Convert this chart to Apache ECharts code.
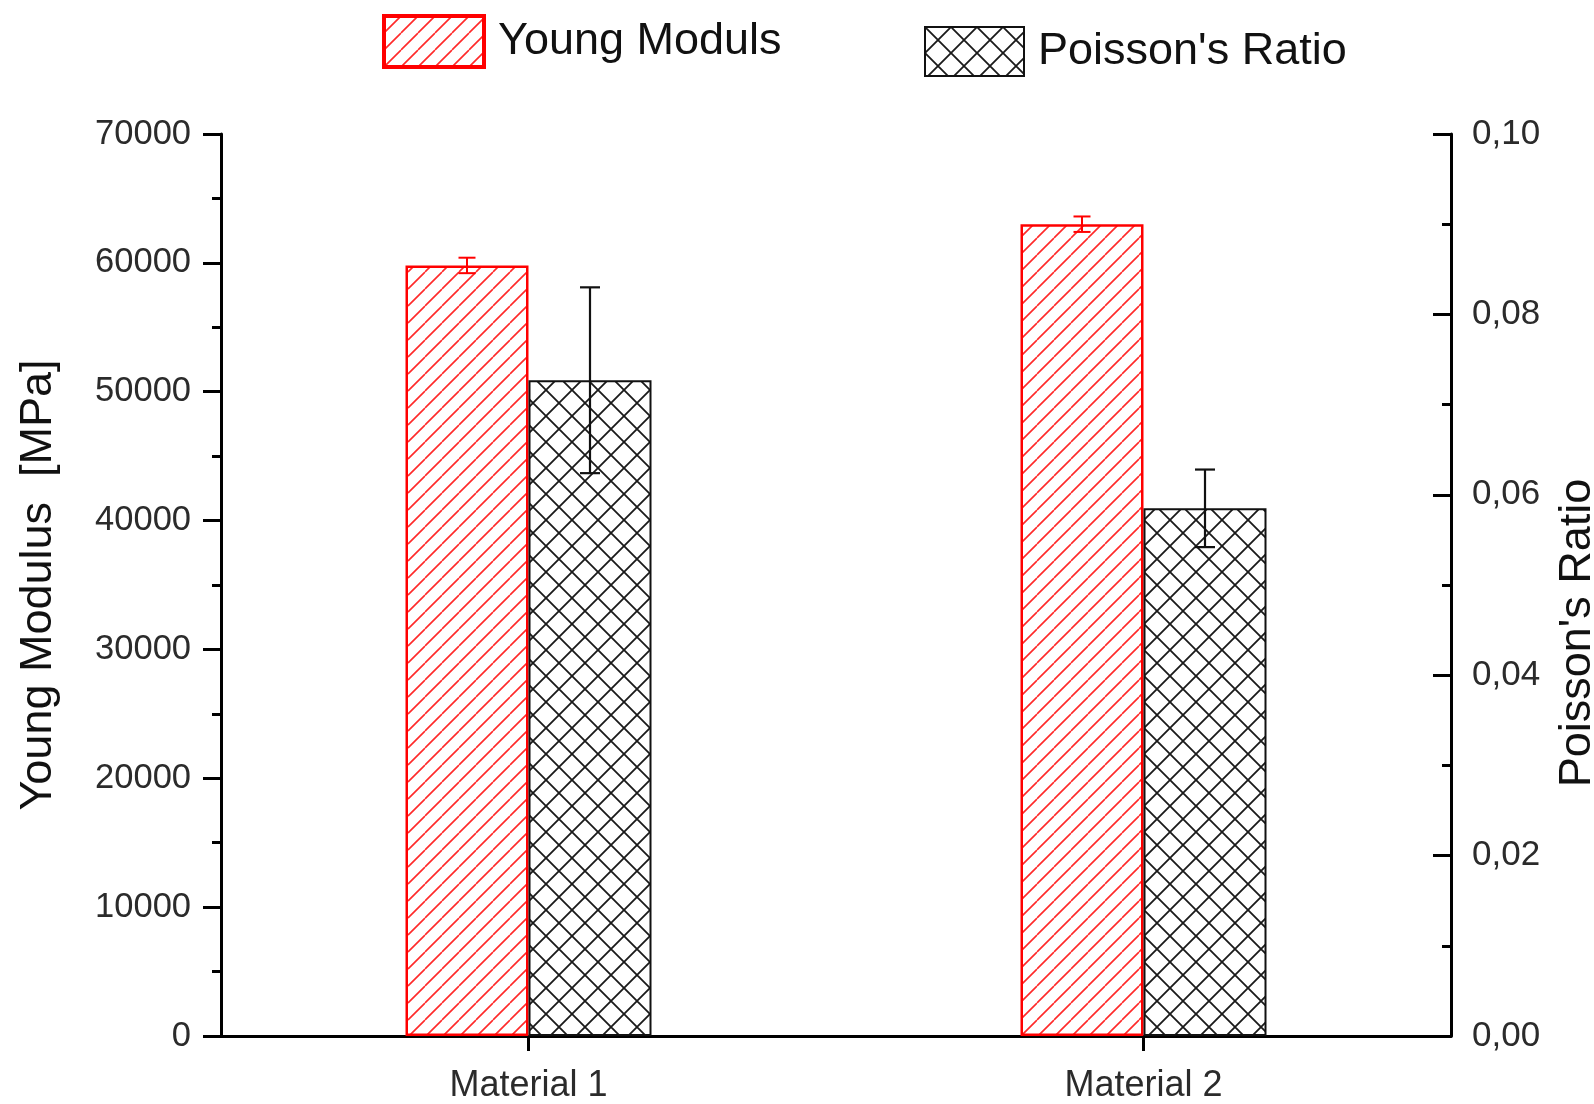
<!DOCTYPE html>
<html>
<head>
<meta charset="utf-8">
<script src="https://cdn.jsdelivr.net/npm/echarts@6/dist/echarts.min.js"></script>
<style>
  html, body { margin: 0; padding: 0; background: #fff; overflow: hidden; }
  #chart { width: 1594px; height: 1104px; }
</style>
</head>
<body>
<div id="chart"></div>
<script>
// Material categories and measured values
const categories = ['Material 1', 'Material 2'];
const youngModulus = [59800, 63000];      // MPa
const youngError = [600, 600];            // MPa
const poissonRatio = [0.0727, 0.0585];
const poissonError = [0.0103, 0.0043];

const FONT = '"Liberation Sans", Arial, sans-serif';
const BAR_W = 123;

// Tiled hatch fills drawn on small canvases
function hatch(size, color, lw, cross) {
  const c = document.createElement('canvas');
  c.width = size; c.height = size;
  const g = c.getContext('2d');
  g.fillStyle = '#fff';
  g.fillRect(0, 0, size, size);
  g.strokeStyle = color;
  g.lineWidth = lw;
  g.beginPath();
  for (let k = -1; k <= 1; k++) {
    g.moveTo(k * size, size);
    g.lineTo(k * size + size, 0);
    if (cross) {
      g.moveTo(k * size, 0);
      g.lineTo(k * size + size, size);
    }
  }
  g.stroke();
  return { image: c, repeat: 'repeat' };
}
const redHatch = hatch(17, '#ff2a2a', 1.6, false);
const blackCross = hatch(26, '#1a1a1a', 1.8, true);

// Error bar rows: [category index, low, high]
const youngErrRows = youngModulus.map((v, i) => [i, v - youngError[i], v + youngError[i]]);
const poissonErrRows = poissonRatio.map((v, i) => [i, v - poissonError[i], v + poissonError[i]]);

function errorBar(offset, color, capHalf, lw) {
  return function (params, api) {
    const lo = api.coord([api.value(0), api.value(1)]);
    const hi = api.coord([api.value(0), api.value(2)]);
    const x = lo[0] + offset;
    const style = { stroke: color, lineWidth: lw };
    return {
      type: 'group',
      children: [
        { type: 'line', shape: { x1: x, y1: lo[1], x2: x, y2: hi[1] }, style },
        { type: 'line', shape: { x1: x - capHalf, y1: hi[1], x2: x + capHalf, y2: hi[1] }, style },
        { type: 'line', shape: { x1: x - capHalf, y1: lo[1], x2: x + capHalf, y2: lo[1] }, style }
      ]
    };
  };
}

const chart = echarts.init(document.getElementById('chart'), null, { renderer: 'canvas', devicePixelRatio: 1 });

const axisLine = { show: true, lineStyle: { color: '#000', width: 3 } };

chart.setOption({
  backgroundColor: '#fff',
  animation: false,
  textStyle: { fontFamily: FONT },
  legend: [
    {
      data: [{ name: 'Young Moduls', icon: 'rect' }],
      left: 382, top: 14, padding: 0,
      itemWidth: 100, itemHeight: 51,
      itemStyle: { borderWidth: 4, borderColor: '#ff0000' },
      textStyle: { fontSize: 45, color: '#111', fontFamily: FONT, padding: [0, 0, 0, 9] }
    },
    {
      data: [{ name: "Poisson's Ratio", icon: 'rect' }],
      left: 924, top: 26, padding: 0,
      itemWidth: 99, itemHeight: 49,
      itemStyle: { borderWidth: 2, borderColor: '#111' },
      textStyle: { fontSize: 45, color: '#111', fontFamily: FONT, padding: [0, 0, 0, 9] }
    }
  ],
  grid: { left: 221, right: 143, top: 134, bottom: 68, containLabel: false, outerBoundsMode: 'none' },
  xAxis: {
    type: 'category',
    data: categories,
    axisLine,
    axisTick: { show: true, alignWithLabel: true, length: 15, lineStyle: { color: '#000', width: 3 } },
    axisLabel: { fontSize: 36, color: '#2b2b2b', margin: 32, fontFamily: FONT },
    splitLine: { show: false }
  },
  yAxis: [
    {
      type: 'value', position: 'left',
      min: 0, max: 70000, interval: 10000,
      name: 'Young Modulus  [MPa]',
      nameLocation: 'middle', nameRotate: 90, nameGap: 160,
      nameTextStyle: { fontSize: 45, color: '#111', fontFamily: FONT },
      axisLine,
      axisTick: { show: true, inside: false, length: 18, lineStyle: { color: '#000', width: 3 } },
      minorTick: { show: true, splitNumber: 2, length: 9, lineStyle: { color: '#000', width: 3 } },
      axisLabel: { fontSize: 34.5, color: '#2b2b2b', margin: 30, fontFamily: FONT, formatter: v => String(v) },
      splitLine: { show: false }
    },
    {
      type: 'value', position: 'right',
      min: 0, max: 0.1, interval: 0.02,
      name: "Poisson's Ratio",
      nameLocation: 'middle', nameRotate: 90, nameGap: 104,
      nameTextStyle: { fontSize: 45, color: '#111', fontFamily: FONT, padding: [0, 96, 0, 0] },
      axisLine,
      axisTick: { show: true, inside: true, length: 18, lineStyle: { color: '#000', width: 3 } },
      minorTick: { show: true, splitNumber: 2, length: 9, lineStyle: { color: '#000', width: 3 } },
      axisLabel: {
        fontSize: 35, color: '#2b2b2b', margin: 21, fontFamily: FONT,
        formatter: v => v.toFixed(2).replace('.', ',')
      },
      splitLine: { show: false }
    }
  ],
  series: [
    {
      name: 'Young Moduls',
      type: 'bar',
      yAxisIndex: 0,
      data: youngModulus,
      barWidth: BAR_W,
      barGap: '0%',
      itemStyle: { color: redHatch, borderColor: '#ff0000', borderWidth: 2.5 },
      z: 2
    },
    {
      name: "Poisson's Ratio",
      type: 'bar',
      yAxisIndex: 1,
      data: poissonRatio,
      barWidth: BAR_W,
      barGap: '0%',
      itemStyle: { color: blackCross, borderColor: '#111', borderWidth: 2 },
      z: 2
    },
    {
      name: 'Young error',
      type: 'custom',
      yAxisIndex: 0,
      data: youngErrRows,
      renderItem: errorBar(-BAR_W / 2, '#ff0000', 8.5, 2),
      z: 5,
      silent: true
    },
    {
      name: 'Poisson error',
      type: 'custom',
      yAxisIndex: 1,
      data: poissonErrRows,
      renderItem: errorBar(BAR_W / 2, '#111', 10, 2.2),
      z: 5,
      silent: true
    }
  ]
});
</script>
</body>
</html>
